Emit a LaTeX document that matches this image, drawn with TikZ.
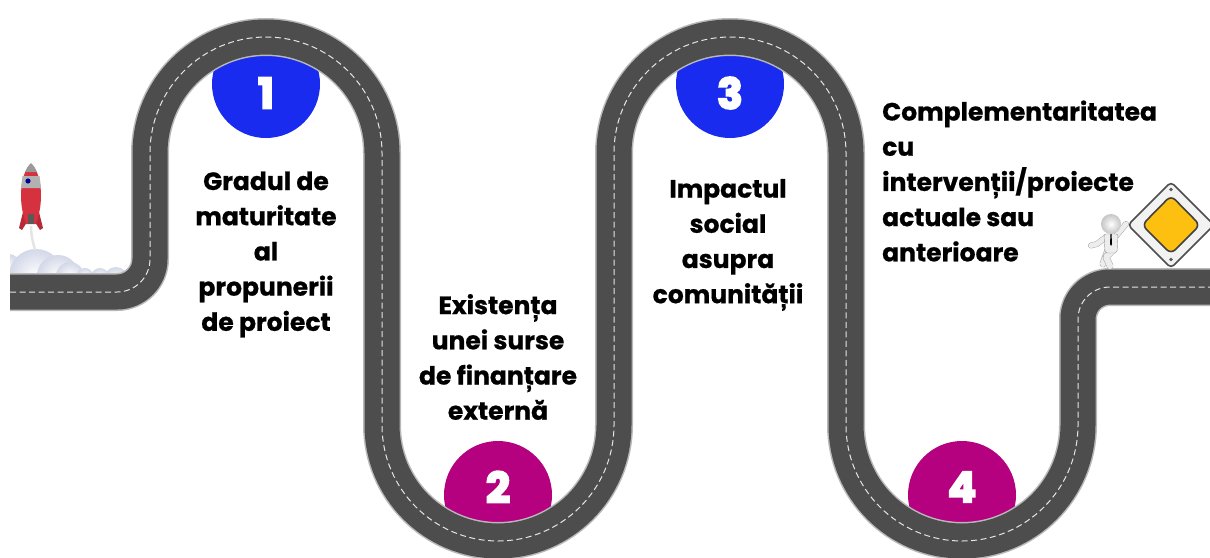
\documentclass[tikz,border=0pt]{standalone}
\usepackage{fontspec}
\setmainfont{Poppins}[BoldFeatures={FakeBold=0.7}]
\newfontfamily\numfont[FakeBold=5]{Poppins}
\definecolor{roadc}{HTML}{4D4D4D}
\definecolor{edgec}{HTML}{B8B8B8}
\definecolor{blueb}{HTML}{1A2BF0}
\definecolor{magb}{HTML}{B5007F}
\definecolor{rocketred}{HTML}{D5313F}
\definecolor{signy}{HTML}{FDC010}
\definecolor{manc}{HTML}{EDEDED}
\definecolor{cloudc}{HTML}{D3D8E8}
\tikzset{
  badge/.style={circle,minimum size=108pt,inner sep=0pt},
  numlbl/.style={text=white,font=\numfont\bfseries\fontsize{42}{42}\selectfont,inner sep=0pt},
  lbl/.style={font=\bfseries\fontsize{25}{35.2}\selectfont,text=black,inner sep=0pt},
  limbout/.style={black!40,line cap=round,line join=round},
  limbin/.style={manc,line cap=round,line join=round},
}
\begin{document}
\begin{tikzpicture}[x=1pt,y=-1pt]
\useasboundingbox (0,0) rectangle (1210,557);
\clip (0,0) rectangle (1210,557);
\fill[white] (0,0) rectangle (1210,557);
% badges
\node[badge,fill=blueb] (b1) at (266,84) {};
\node[badge,fill=magb] (b2) at (498,495) {};
\node[badge,fill=blueb] (b3) at (730,84) {};
\node[badge,fill=magb] (b4) at (962,495) {};
% clouds
\begin{scope}
\clip (10,240) rectangle (130,274);
\foreach \cx/\cy/\rr in {8/268/14,36/276/27,58/276/21,70/276/14,85/276/8,100/277/9,116/279/12}{
  \shade[inner color=white,outer color=cloudc] (\cx,\cy) circle[radius=\rr];
}
\end{scope}
% road
\def\roadpath{(10,292) -- (117,292) arc[start angle=90,end angle=0,radius=33] -- (150,153) arc[start angle=180,end angle=360,radius=116] -- (382,425) arc[start angle=180,end angle=0,radius=116] -- (614,153) arc[start angle=180,end angle=360,radius=116] -- (846,425) arc[start angle=180,end angle=0,radius=116] -- (1078,319) arc[start angle=180,end angle=270,radius=32] -- (1210,287)}
\draw[edgec,line width=38pt] \roadpath;
\draw[roadc,line width=35pt] \roadpath;
\draw[white!90!black,line width=1pt,dash pattern=on 6pt off 3.5pt] \roadpath;
% badge numbers
\node[numlbl] (n1) at (266,93) {1};
\node[numlbl] (n2) at (498,487) {2};
\node[numlbl] (n3) at (730,93) {3};
\node[numlbl] (n4) at (962,487) {4};
% labels
\node[lbl,align=center] (t1) at (266,254.5) {Gradul de\\maturitate\\al\\propunerii\\de proiect};
\node[lbl,align=center] (t2) at (498,357) {Existența\\unei surse\\de finanțare\\externă};
\node[lbl,align=center] (t3) at (728,245) {Impactul\\social\\asupra\\comunității};
\node[lbl,align=left,anchor=west] (t4) at (882,181) {Complementaritatea\\cu\\intervenții/proiecte\\actuale sau\\anterioare};
% rocket
\draw[white!80!gray,line width=2.5pt] (31,226) .. controls (31,236) and (33,242) .. (35,250);
\fill[rocketred!85!black] (24,208) -- (19,228) -- (22,230) -- (27,222) -- cycle;
\fill[rocketred!85!black] (38,208) -- (43,228) -- (40,230) -- (35,222) -- cycle;
\fill[rocketred] (31,164) .. controls (38,170) and (41,182) .. (41,196) .. controls (41,208) and (38,218) .. (36,224) -- (26,224) .. controls (24,218) and (21,208) .. (21,196) .. controls (21,182) and (24,170) .. (31,164) -- cycle;
\fill[gray!80] (31,163) .. controls (34,166) and (36,169) .. (37,172) -- (25,172) .. controls (26,169) and (28,166) .. (31,163) -- cycle;
\fill[gray!60] (22.5,176) -- (39.5,176) -- (41,188) -- (21,188) -- cycle;
\fill[blue!60!black] (28,181) circle[radius=2.6];
\fill[black!65] (28,214) rectangle (34,224);
% man: limbs
\draw[limbout,line width=5.8pt] (1106,237) -- (1097,244) -- (1091,245.5);
\draw[limbin,line width=5pt] (1106,237) -- (1097,244) -- (1091,245.5);
\draw[limbout,line width=5.8pt] (1116,236) -- (1126,224);
\draw[limbin,line width=5pt] (1116,236) -- (1126,224);
\draw[limbout,line width=6.8pt] (1108,250) -- (1103,264);
\draw[limbin,line width=6pt] (1108,250) -- (1103,264);
\draw[limbout,line width=6.8pt] (1113,250) -- (1106,257) -- (1110,266);
\draw[limbin,line width=6pt] (1113,250) -- (1106,257) -- (1110,266);
\draw[black!40,fill=manc,line width=0.4pt,rounded corners=2pt] (1104,234) -- (1118,234) -- (1117,253) -- (1105,253) -- cycle;
\fill[black] (1110.5,234) -- (1111.5,234) -- (1112,244) -- (1111,246) -- (1110,244) -- cycle;
\shade[inner color=white,outer color=gray!45] (1111,224) circle[radius=10];
% sign
\draw[black!70,fill=white!95!black,line width=1.6pt,rounded corners=4pt] (1171,182) -- (1214,225) -- (1171,268) -- (1128,225) -- cycle;
\draw[black!75,fill=signy,line width=1.6pt,rounded corners=6pt] (1171,195.5) -- (1200,225) -- (1171,254) -- (1142,225) -- cycle;
\fill[black!65] (1171,189.5) circle[radius=1.8];
\fill[black!65] (1171,259.5) circle[radius=1.8];
\end{tikzpicture}
\end{document}
